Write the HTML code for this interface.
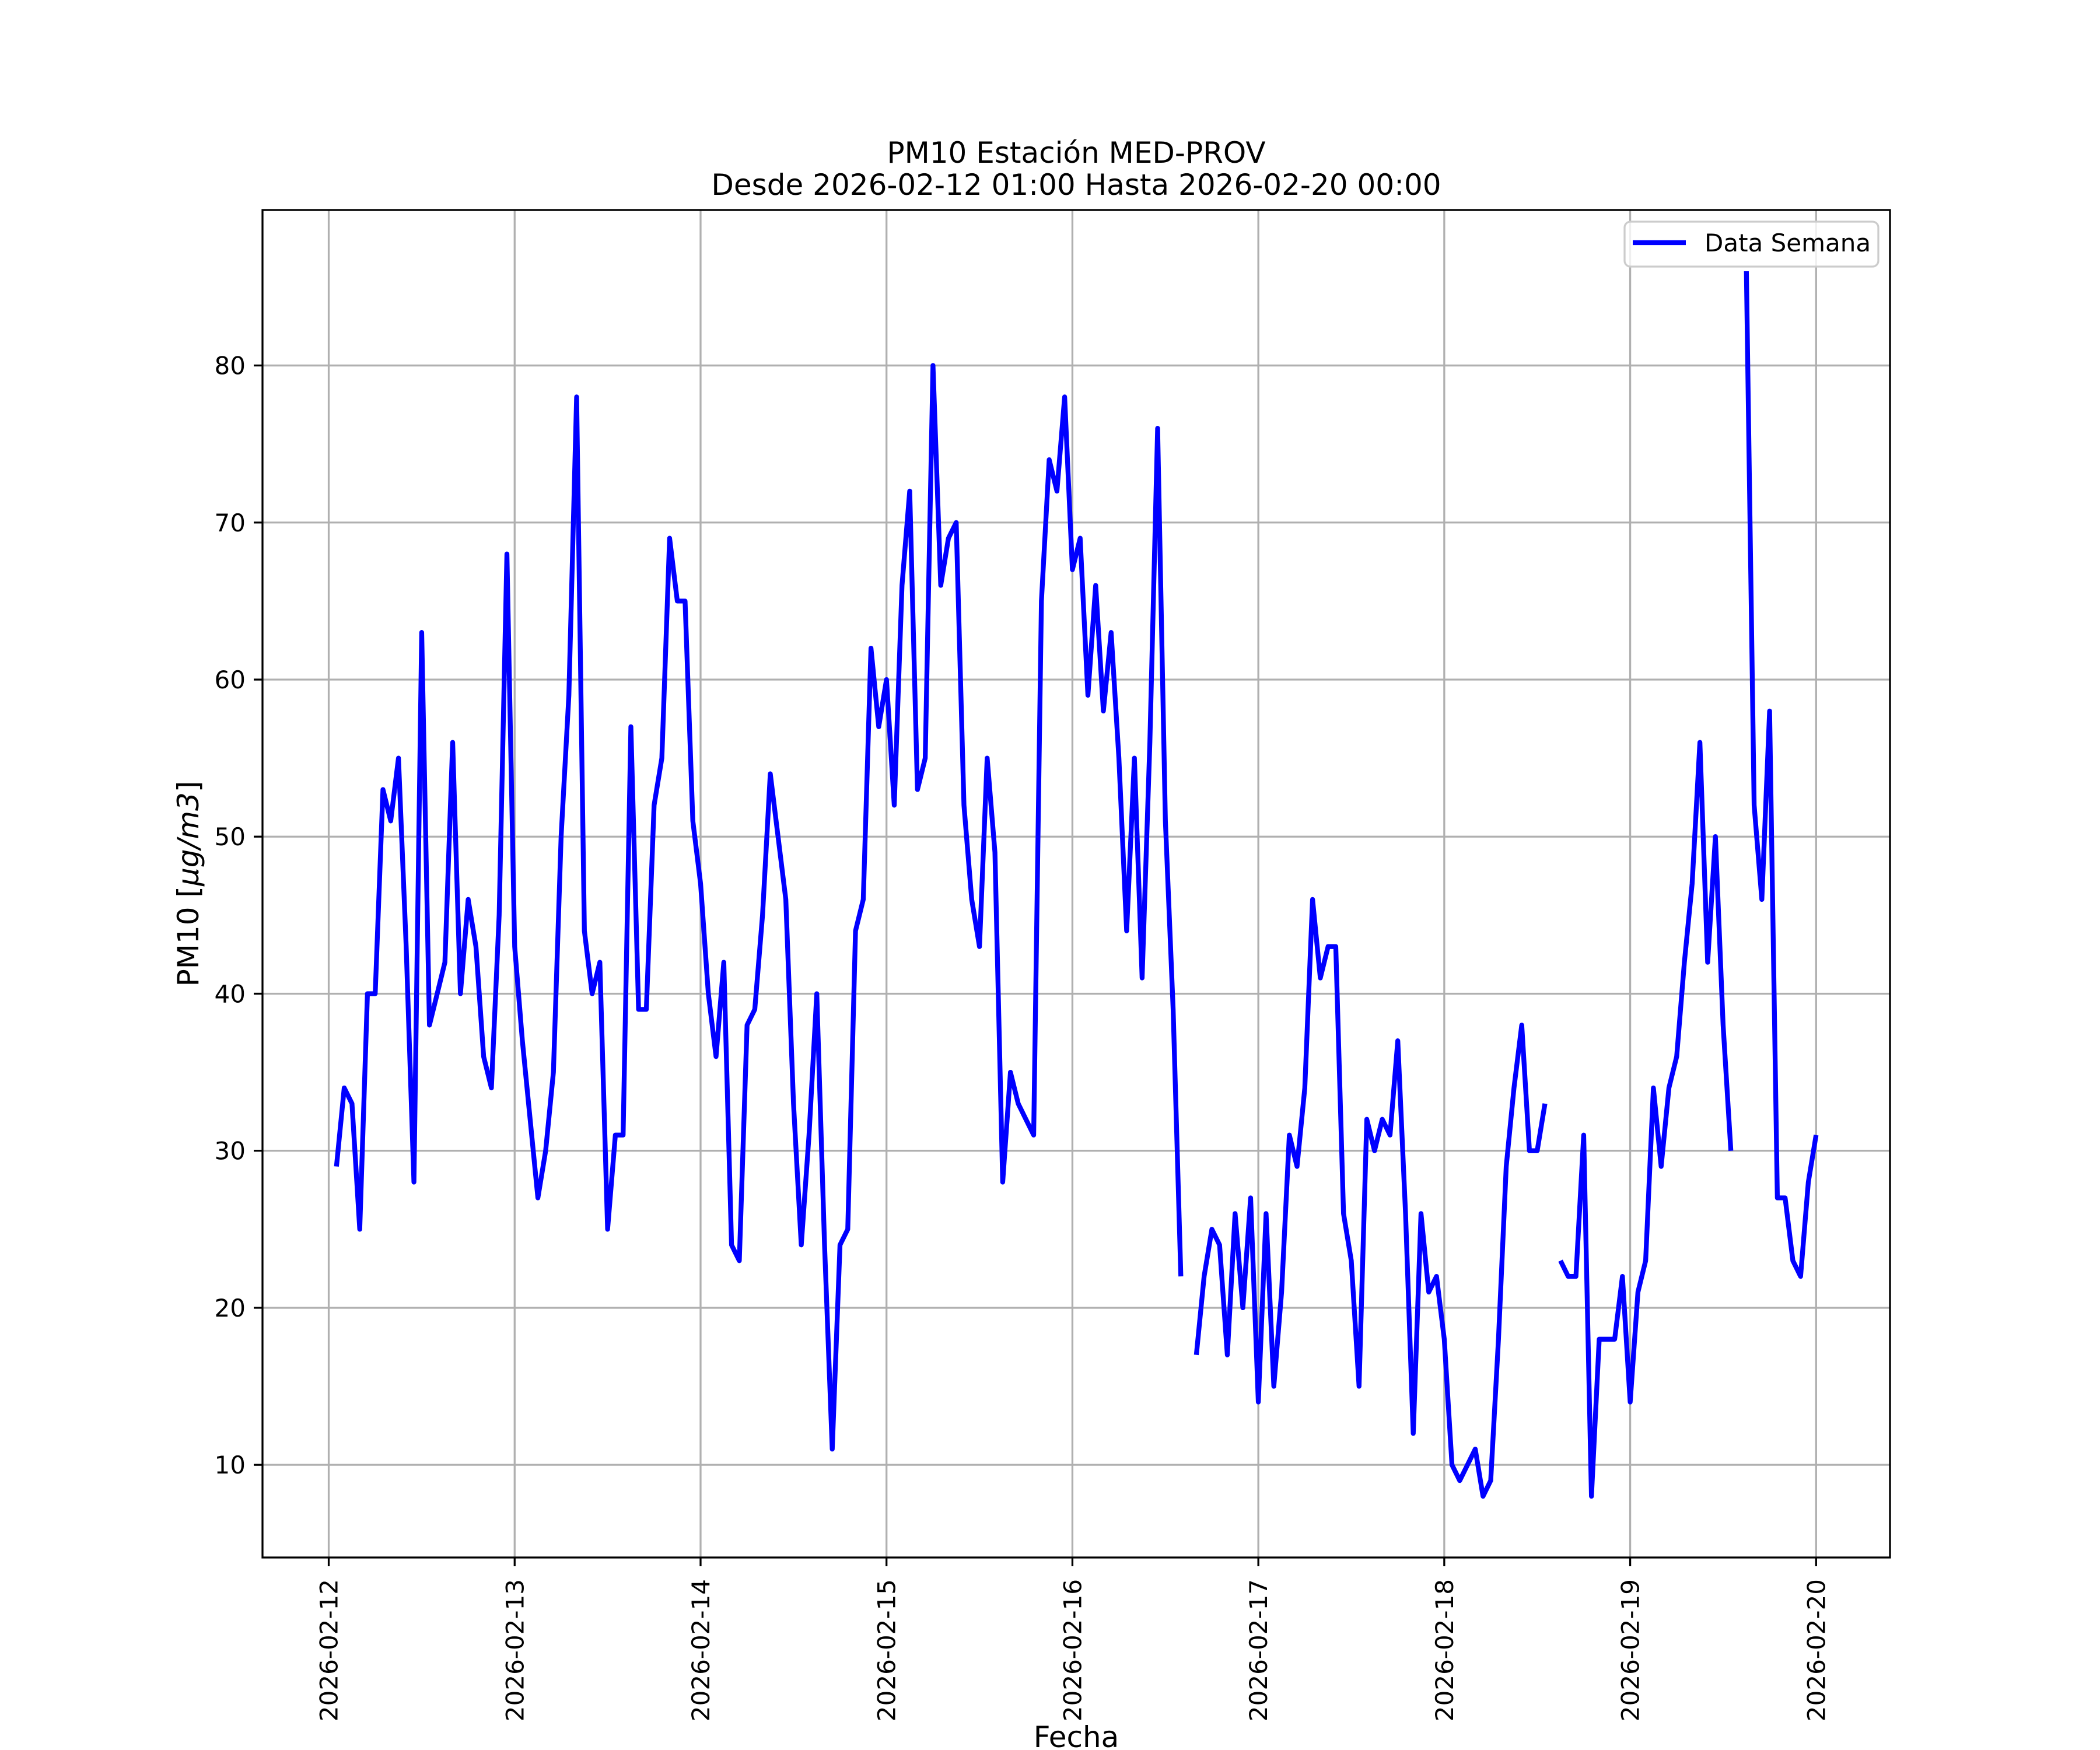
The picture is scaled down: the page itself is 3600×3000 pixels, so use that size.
<!DOCTYPE html>
<html><head><meta charset="utf-8"><style>
html,body{margin:0;padding:0;background:#fff;}
svg{display:block;font-family:"DejaVu Sans","Liberation Sans",sans-serif;}
</style></head><body>
<svg id="s" xmlns="http://www.w3.org/2000/svg" width="3600" height="3000" viewBox="0 0 3600 3000">
<rect width="3600" height="3000" fill="#fff"/>
<defs><clipPath id="ax"><rect x="450" y="360" width="2790" height="2310"/></clipPath></defs>
<g id="grid"></g>
<g id="lines" clip-path="url(#ax)"></g>
<rect x="450" y="360" width="2790" height="2310" fill="none" stroke="#000" stroke-width="3.3"/>
<g id="ticks"></g>
<text x="1845" y="279" font-size="50" text-anchor="middle">PM10 Estación MED-PROV</text>
<text x="1845" y="334" font-size="50" text-anchor="middle">Desde 2026-02-12 01:00 Hasta 2026-02-20 00:00</text>
<text x="1845" y="2995" font-size="50" text-anchor="middle">Fecha</text>
<text transform="translate(340,1515) rotate(-90)" font-size="50" text-anchor="middle">PM10 [<tspan font-style="italic">μg/m3</tspan>]</text>
<rect x="2785" y="380" width="435" height="77" rx="10" fill="#fff" fill-opacity="0.8" stroke="#cccccc" stroke-width="3.3"/>
<line x1="2799" y1="416" x2="2890" y2="416" stroke="#0000ff" stroke-width="8.3"/>
<text x="2922" y="431" font-size="42">Data Semana</text>
</svg>
<script>
var X=function(t){return 450+(t+8.55)*13.28;};
var Y=function(v){return 2670-(v-4.1)*26.923;};
var ns="http://www.w3.org/2000/svg";
function el(p,n,a,txt){var e=document.createElementNS(ns,n);for(var k in a)e.setAttribute(k,a[k]);if(txt)e.textContent=txt;document.getElementById(p).appendChild(e);return e;}
for(var v=10;v<=80;v+=10){var y=Y(v);el('grid','line',{x1:450,x2:3240,y1:y,y2:y,stroke:'#b0b0b0','stroke-width':3.3});
el('ticks','line',{x1:435,x2:450,y1:y,y2:y,stroke:'#000','stroke-width':3.3});
el('ticks','text',{x:421,y:y+15,'font-size':42,'text-anchor':'end'},String(v));}
for(var d=0;d<=8;d++){var x=X(d*24);el('grid','line',{x1:x,x2:x,y1:360,y2:2670,stroke:'#b0b0b0','stroke-width':3.3});
el('ticks','line',{x1:x,x2:x,y1:2670,y2:2685,stroke:'#000','stroke-width':3.3});
el('ticks','text',{transform:'translate('+(x+15)+',2707) rotate(-90)','font-size':42,'text-anchor':'end'},'2026-02-'+(12+d));}
var segs=[[1,[29,34,33,25,40,40,53,51,55,43,28,63,38,40,42,56,40,46,43,36,34,45,68,43,
37,32,27,30,35,50,59,78,44,40,42,25,31,31,57,39,39,52,55,69,65,65,51,47,
40,36,42,24,23,38,39,45,54,50,46,33,24,31,40,24,11,24,25,44,46,62,57,60,
52,66,72,53,55,80,66,69,70,52,46,43,55,49,28,35,33,32,31,65,74,72,78,67,
69,59,66,58,63,55,44,55,41,56,76,51,39,22]],
[112,[17,22,25,24,17,26,20,27,14,
26,15,21,31,29,34,46,41,43,43,26,23,15,32,30,32,31,37,26,12,26,21,22,18,
10,9,10,11,8,9,18,29,34,38,30,30,33]],
[159,[23,22,22,31,8,18,18,18,22,14,21,23,34,29,34,36,42,47,56,42,50,38,30]],
[183,[86,52,46,58,27,27,23,22,28,31]]];
segs.forEach(function(s){var pts=s[1].map(function(v,i){return X(s[0]+i).toFixed(1)+','+Y(v).toFixed(1);}).join(' ');
el('lines','polyline',{points:pts,fill:'none',stroke:'#0000ff','stroke-width':8.3,'stroke-linejoin':'round','stroke-linecap':'butt'});});
</script>
</body></html>
